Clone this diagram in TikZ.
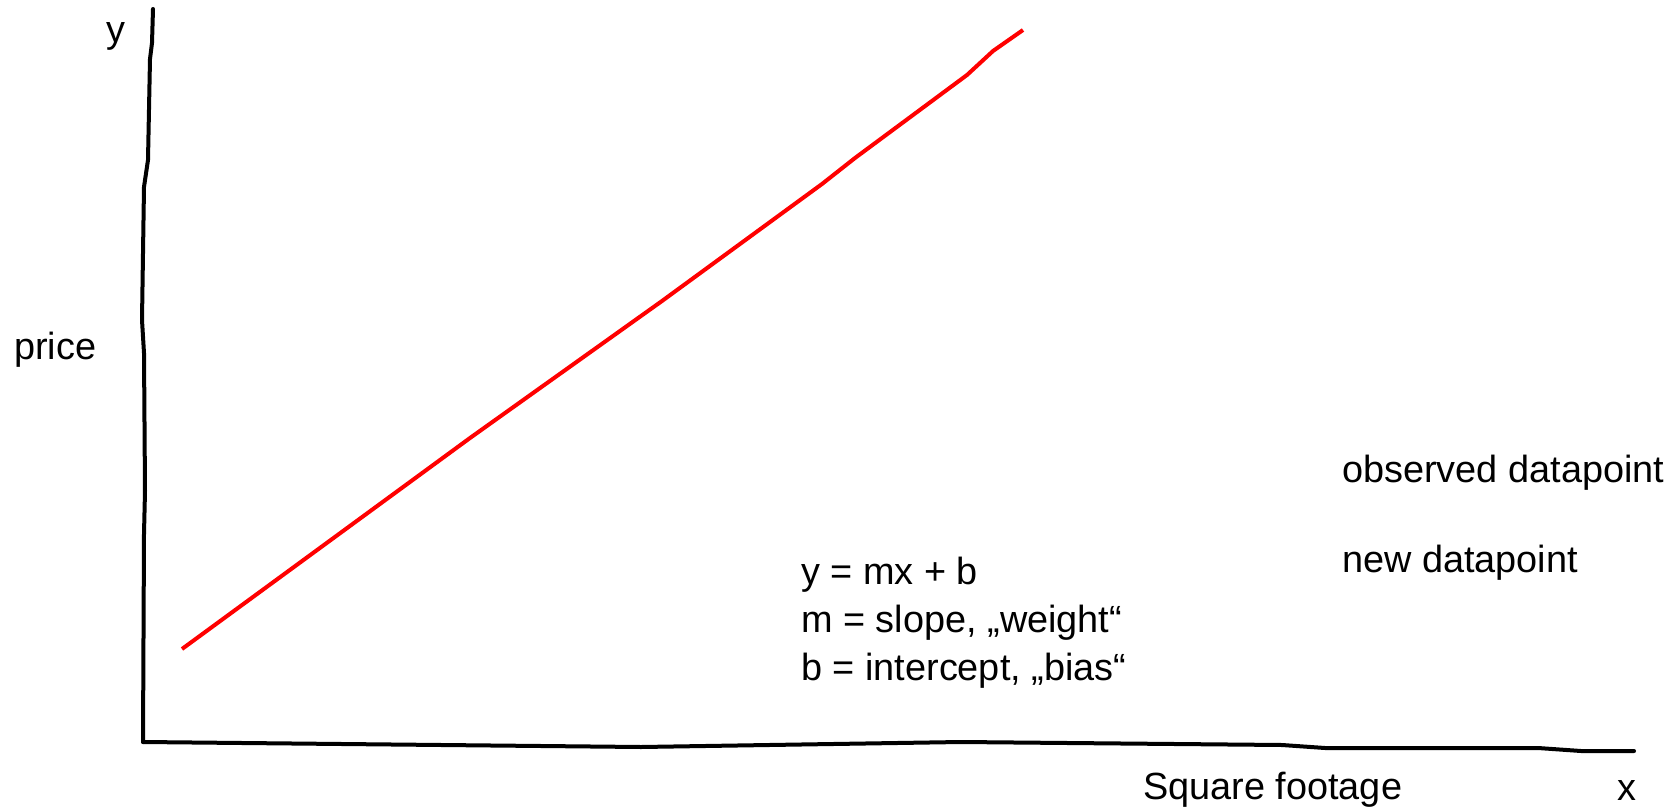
\documentclass[tikz,border=0pt]{standalone}
\usepackage{fontspec}
\setmainfont{Liberation Sans}
\begin{document}
\begin{tikzpicture}[x=1bp,y=-1bp,
  axis/.style={line width=4bp,black,line join=round,line cap=round},
  fit line/.style={line width=4bp,red,line join=round},
  lbl/.style={inner sep=0pt,font=\fontsize{38}{48}\selectfont}]
\useasboundingbox (0,0) rectangle (1675,812);
% axes
\draw[axis] (153,9) -- (152,43) -- (150,59) -- (148,160) -- (144,187) -- (142,320) -- (144,353) -- (145,491) -- (144,534) -- (143,742);
\draw[axis] (143,742) -- (641,747) -- (961,742) -- (1282,745) -- (1325,748) -- (1538,748) -- (1581,751) -- (1634,751);
% regression line
\draw[fit line] (182,649) -- (470,438) -- (662,301) -- (822,184) -- (855,158) -- (967,75) -- (993,51) -- (1023,30);
% labels
\node[lbl] (ylab) at (116,36) {y};
\node[lbl,anchor=west] (price) at (14,350) {price};
\node[lbl,anchor=west] (obs) at (1342,473) {observed datapoint};
\node[lbl,anchor=west] (new) at (1342,563) {new datapoint};
\node[lbl,anchor=north west,align=left] (eq) at (801,557) {y = mx + b\\m = slope, „weight“\\b = intercept, „bias“};
\node[lbl,anchor=west] (sq) at (1143,790) {Square footage};
\node[lbl] (xlab) at (1627,790) {x};
\end{tikzpicture}
\end{document}
